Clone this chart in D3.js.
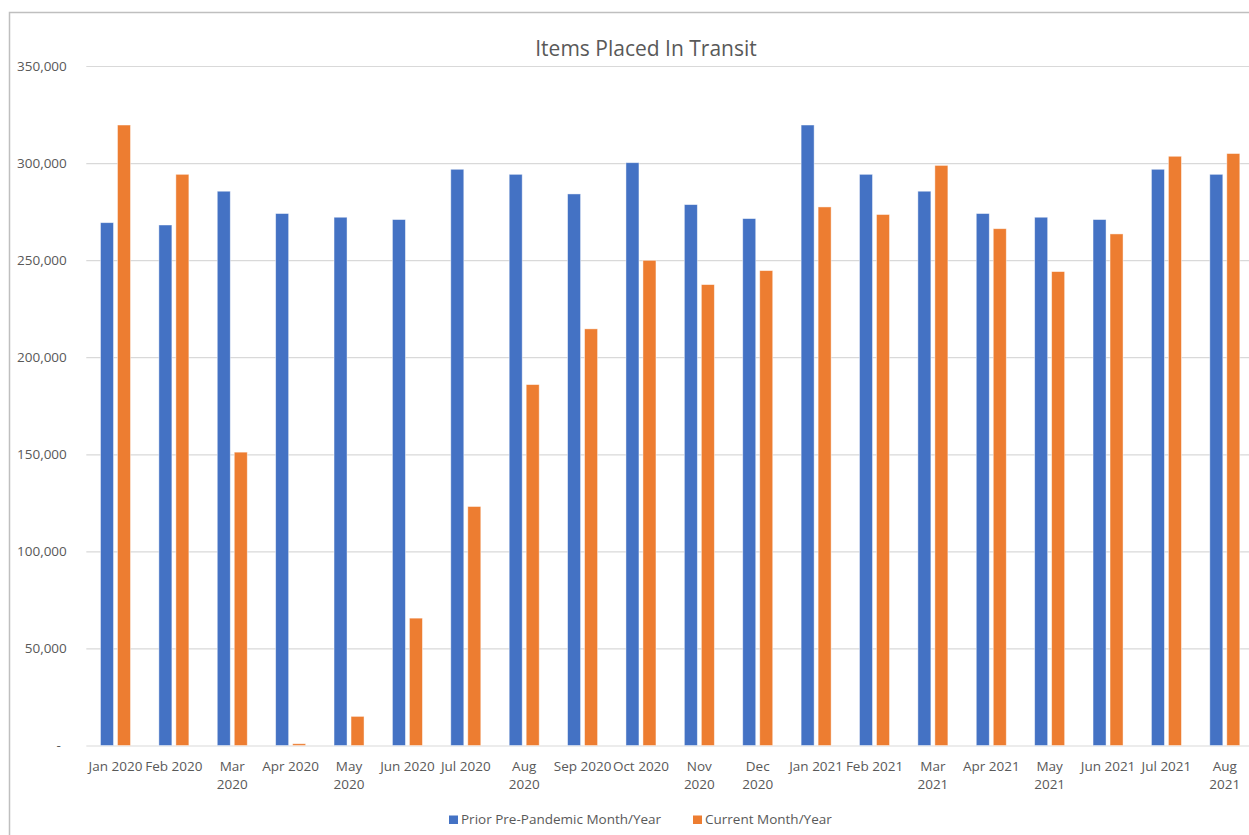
<!DOCTYPE html>
<html>
<head>
<meta charset="utf-8">
<title>Items Placed In Transit</title>
<script src="https://cdn.jsdelivr.net/npm/d3@7"></script>
<style>
  html, body { margin: 0; padding: 0; background: #fff; }
  svg { display: block; }
  text { font-family: "Open Sans", "Noto Sans", sans-serif; fill: #595959; }
</style>
</head>
<body>
<svg id="chart" width="1249" height="835"></svg>
<script>
// Monthly categories
const categories = [
  "Jan 2020", "Feb 2020", "Mar 2020", "Apr 2020", "May 2020", "Jun 2020",
  "Jul 2020", "Aug 2020", "Sep 2020", "Oct 2020", "Nov 2020", "Dec 2020",
  "Jan 2021", "Feb 2021", "Mar 2021", "Apr 2021", "May 2021", "Jun 2021",
  "Jul 2021", "Aug 2021"
];

// Items placed in transit, same month before the pandemic
const priorValues = [
  269300, 268100, 285500, 274000, 272100, 270900,
  296800, 294200, 284100, 300200, 278600, 271400,
  319600, 294200, 285500, 274000, 272100, 270900,
  296800, 294200
];

// Items placed in transit, current month
const currentValues = [
  319600, 294200, 151100, 900, 15000, 65600,
  123100, 185900, 214600, 249900, 237400, 244600,
  277400, 273500, 298800, 266200, 244100, 263500,
  303500, 304900
];

const seriesNames = ["Prior Pre-Pandemic Month/Year", "Current Month/Year"];
const seriesColors = ["#4472C4", "#ED7D31"];

const yTicks = [0, 50000, 100000, 150000, 200000, 250000, 300000, 350000];

// Category labels that break onto two lines under their bars
const wrappedLabels = [
  "Mar 2020", "May 2020", "Aug 2020", "Nov 2020", "Dec 2020",
  "Mar 2021", "May 2021", "Aug 2021"
];

const chartTitle = "Items Placed In Transit";

// ---- layout ----
const plotLeft = 86.3, plotRight = 1254, plotTop = 66, plotBottom = 745.5;
const svg = d3.select("#chart");

// chart-area border
svg.append("rect")
  .attr("x", 9.5).attr("y", 12.5)
  .attr("width", 1400).attr("height", 1000)
  .attr("fill", "#fff")
  .attr("stroke", "#BFBFBF").attr("stroke-width", 1.5);

const rows = categories.map((c, i) => ({ cat: c, values: [priorValues[i], currentValues[i]] }));

const x0 = d3.scaleBand().domain(categories).range([plotLeft, plotRight]).paddingInner(0).paddingOuter(0);
const groupWidth = 30;
const x1 = d3.scaleBand().domain([0, 1]).range([0, groupWidth]).paddingInner(4 / 17).paddingOuter(0);
const y = d3.scaleLinear().domain([0, 350000]).range([plotBottom, plotTop]);

// gridlines
const grid = svg.append("g")
  .attr("transform", `translate(${plotLeft},0)`)
  .call(d3.axisLeft(y).tickValues(yTicks).tickSize(-(plotRight - plotLeft)).tickFormat(""));
grid.select(".domain").remove();
grid.selectAll(".tick line").attr("stroke", "#D9D9D9").attr("stroke-width", 1.2);

// y-axis labels
const fmt = d3.format(",");
const yAxis = svg.append("g")
  .attr("transform", `translate(${plotLeft},0)`)
  .call(d3.axisLeft(y).tickValues(yTicks).tickSize(0).tickPadding(19.5)
    .tickFormat(d => d === 0 ? "-" : fmt(d)));
yAxis.select(".domain").remove();
yAxis.selectAll(".tick text")
  .attr("font-size", 13.5)
  .attr("fill", "#595959")
  .attr("font-family", null)
  .attr("dx", d => d === 0 ? -6 : 0);

// bars
const groups = svg.append("g").selectAll("g")
  .data(rows)
  .join("g")
  .attr("transform", d => `translate(${x0(d.cat) + (x0.bandwidth() - groupWidth) / 2},0)`);

groups.selectAll("rect")
  .data(d => d.values.map((v, s) => ({ s, v })))
  .join("rect")
  .attr("x", d => x1(d.s))
  .attr("width", x1.bandwidth())
  .attr("y", d => y(d.v))
  .attr("height", d => y(0) - y(d.v))
  .attr("fill", d => seriesColors[d.s])
  .attr("stroke", "#fff")
  .attr("stroke-opacity", 0.55)
  .attr("stroke-width", 0.8);

// x-axis labels
const xAxis = svg.append("g")
  .attr("transform", `translate(0,${plotBottom})`)
  .call(d3.axisBottom(x0).tickSize(0).tickPadding(0));
xAxis.select(".domain").remove();
xAxis.selectAll(".tick text")
  .attr("font-size", 13.5)
  .attr("fill", "#595959")
  .attr("font-family", null)
  .attr("dy", null)
  .attr("y", 0)
  .each(function (d) {
    const t = d3.select(this).text("");
    if (wrappedLabels.includes(d)) {
      const parts = d.split(" ");
      t.append("tspan").attr("x", 0).attr("y", 25.8).text(parts[0]);
      t.append("tspan").attr("x", 0).attr("y", 43.8).text(parts[1]);
    } else {
      t.append("tspan").attr("x", 0).attr("y", 25.8).text(d);
    }
  });

// title
svg.append("text")
  .attr("x", 646).attr("y", 56)
  .attr("text-anchor", "middle")
  .attr("font-size", 21)
  .text(chartTitle);

// legend
const legendItems = [
  { name: seriesNames[0], color: seriesColors[0], sx: 449, tx: 461 },
  { name: seriesNames[1], color: seriesColors[1], sx: 693, tx: 705 }
];
const legend = svg.append("g");
legend.selectAll("rect")
  .data(legendItems)
  .join("rect")
  .attr("x", d => d.sx).attr("y", 815.5)
  .attr("width", 9).attr("height", 8.5)
  .attr("fill", d => d.color);
legend.selectAll("text")
  .data(legendItems)
  .join("text")
  .attr("x", d => d.tx).attr("y", 824)
  .attr("font-size", 13.5)
  .text(d => d.name);
</script>
</body>
</html>
